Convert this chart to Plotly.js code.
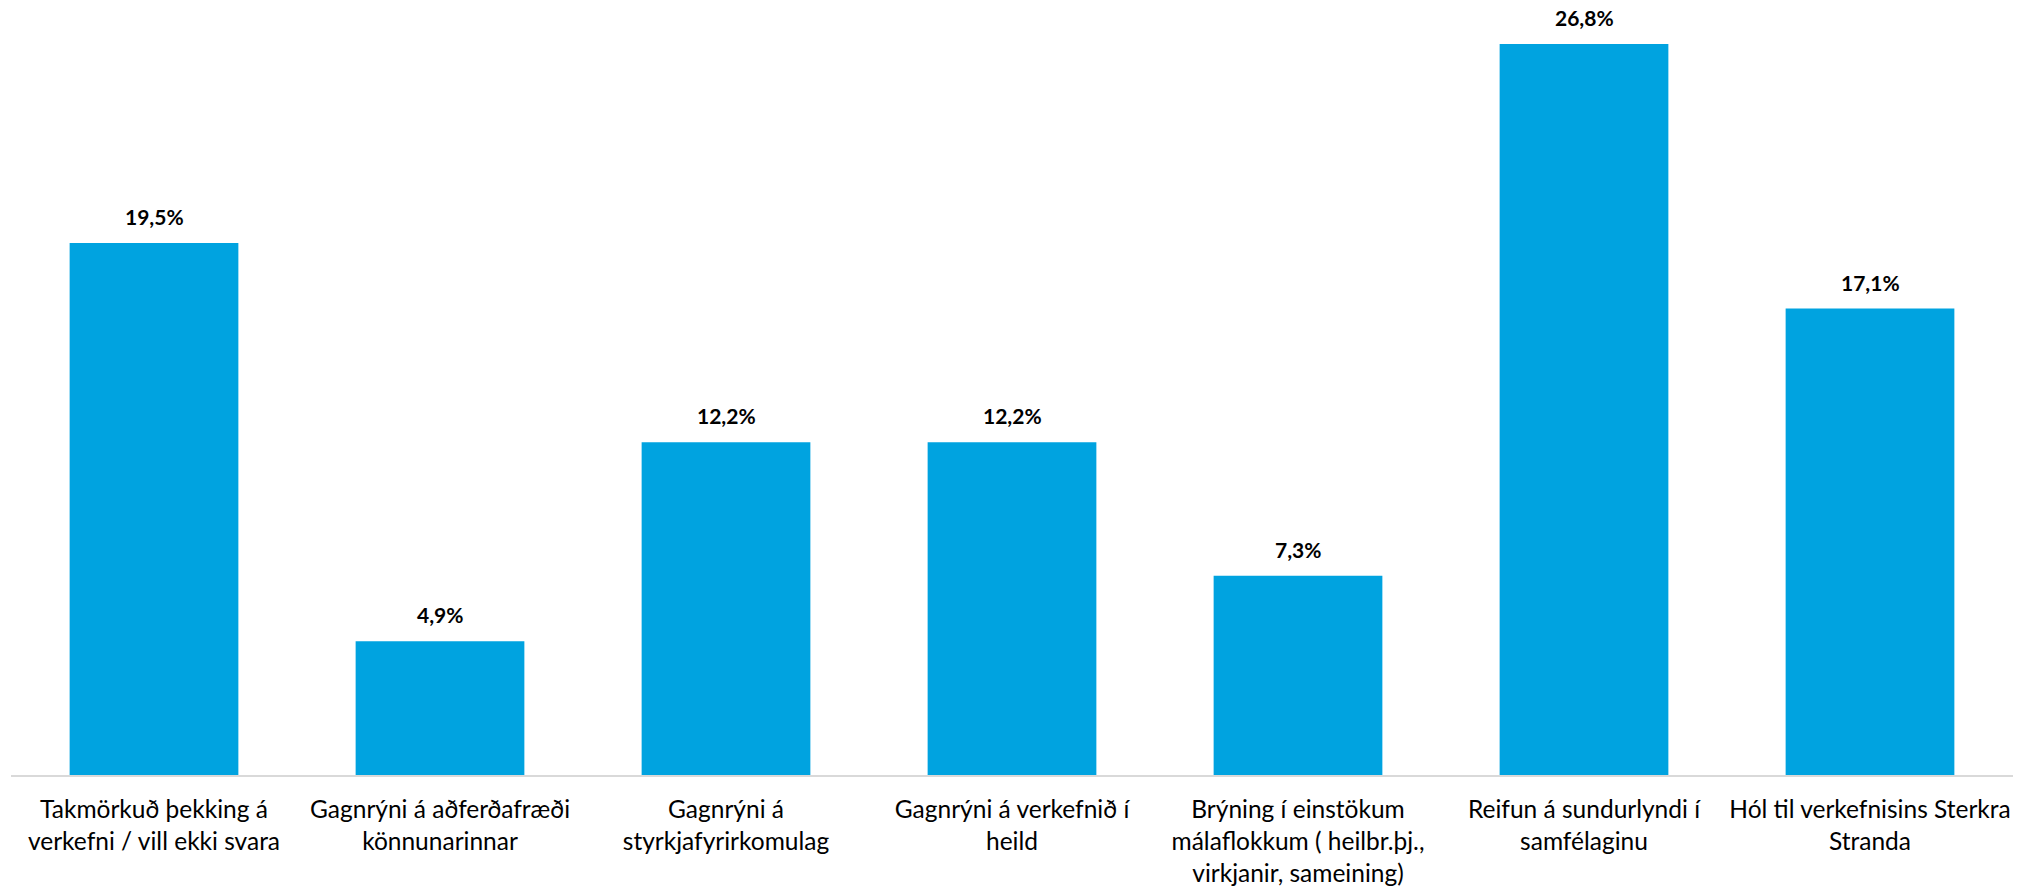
<!DOCTYPE html>
<html>
<head>
<meta charset="utf-8">
<script src="https://cdn.plot.ly/plotly-3.0.1.min.js"></script>
<style>html,body{margin:0;padding:0;background:#fff;}#chart{width:2025px;height:890px;}</style>
</head>
<body>
<div id="chart"></div>
<script>
const categories = [
  "Takmörkuð þekking á<br>verkefni / vill ekki svara",
  "Gagnrýni á aðferðafræði<br>könnunarinnar",
  "Gagnrýni á<br>styrkjafyrirkomulag",
  "Gagnrýni á verkefnið í<br>heild",
  "Brýning í einstökum<br>málaflokkum ( heilbr.þj.,<br>virkjanir, sameining)",
  "Reifun á sundurlyndi í<br>samfélaginu",
  "Hól til verkefnisins Sterkra<br>Stranda"
];
const values = [19.5, 4.9, 12.2, 12.2, 7.3, 26.8, 17.1];
const valueLabels = values.map(v => v.toFixed(1).replace('.', ',') + '%');

const FONT = "Lato, 'Open Sans', sans-serif";

const trace = {
  type: 'bar',
  x: categories,
  y: values,
  marker: {color: '#00A3E0'},
  hoverinfo: 'none'
};

const annotations = categories.map((c, i) => ({
  x: c, y: values[i], xref: 'x', yref: 'y',
  text: '<b>' + valueLabels[i] + '</b>',
  showarrow: false, yanchor: 'bottom', yshift: 12,
  font: {family: FONT, size: 21, color: '#000'}
}));

const layout = {
  width: 2025, height: 890,
  margin: {l: 11, r: 12, t: 0, b: 115},
  paper_bgcolor: '#fff', plot_bgcolor: '#fff',
  bargap: 0.41,
  showlegend: false,
  xaxis: {
    type: 'category',
    showline: true, linecolor: '#d9d9d9', linewidth: 2,
    showgrid: false, ticks: '', zeroline: false,
    tickfont: {family: FONT, size: 24.5, color: '#000'},
    ticklabelstandoff: 12,
    tickangle: 0
  },
  yaxis: {
    range: [0, 28.41],
    visible: false, showgrid: false, zeroline: false
  },
  annotations: annotations
};

Plotly.newPlot('chart', [trace], layout, {displayModeBar: false, staticPlot: true});
</script>
</body>
</html>
